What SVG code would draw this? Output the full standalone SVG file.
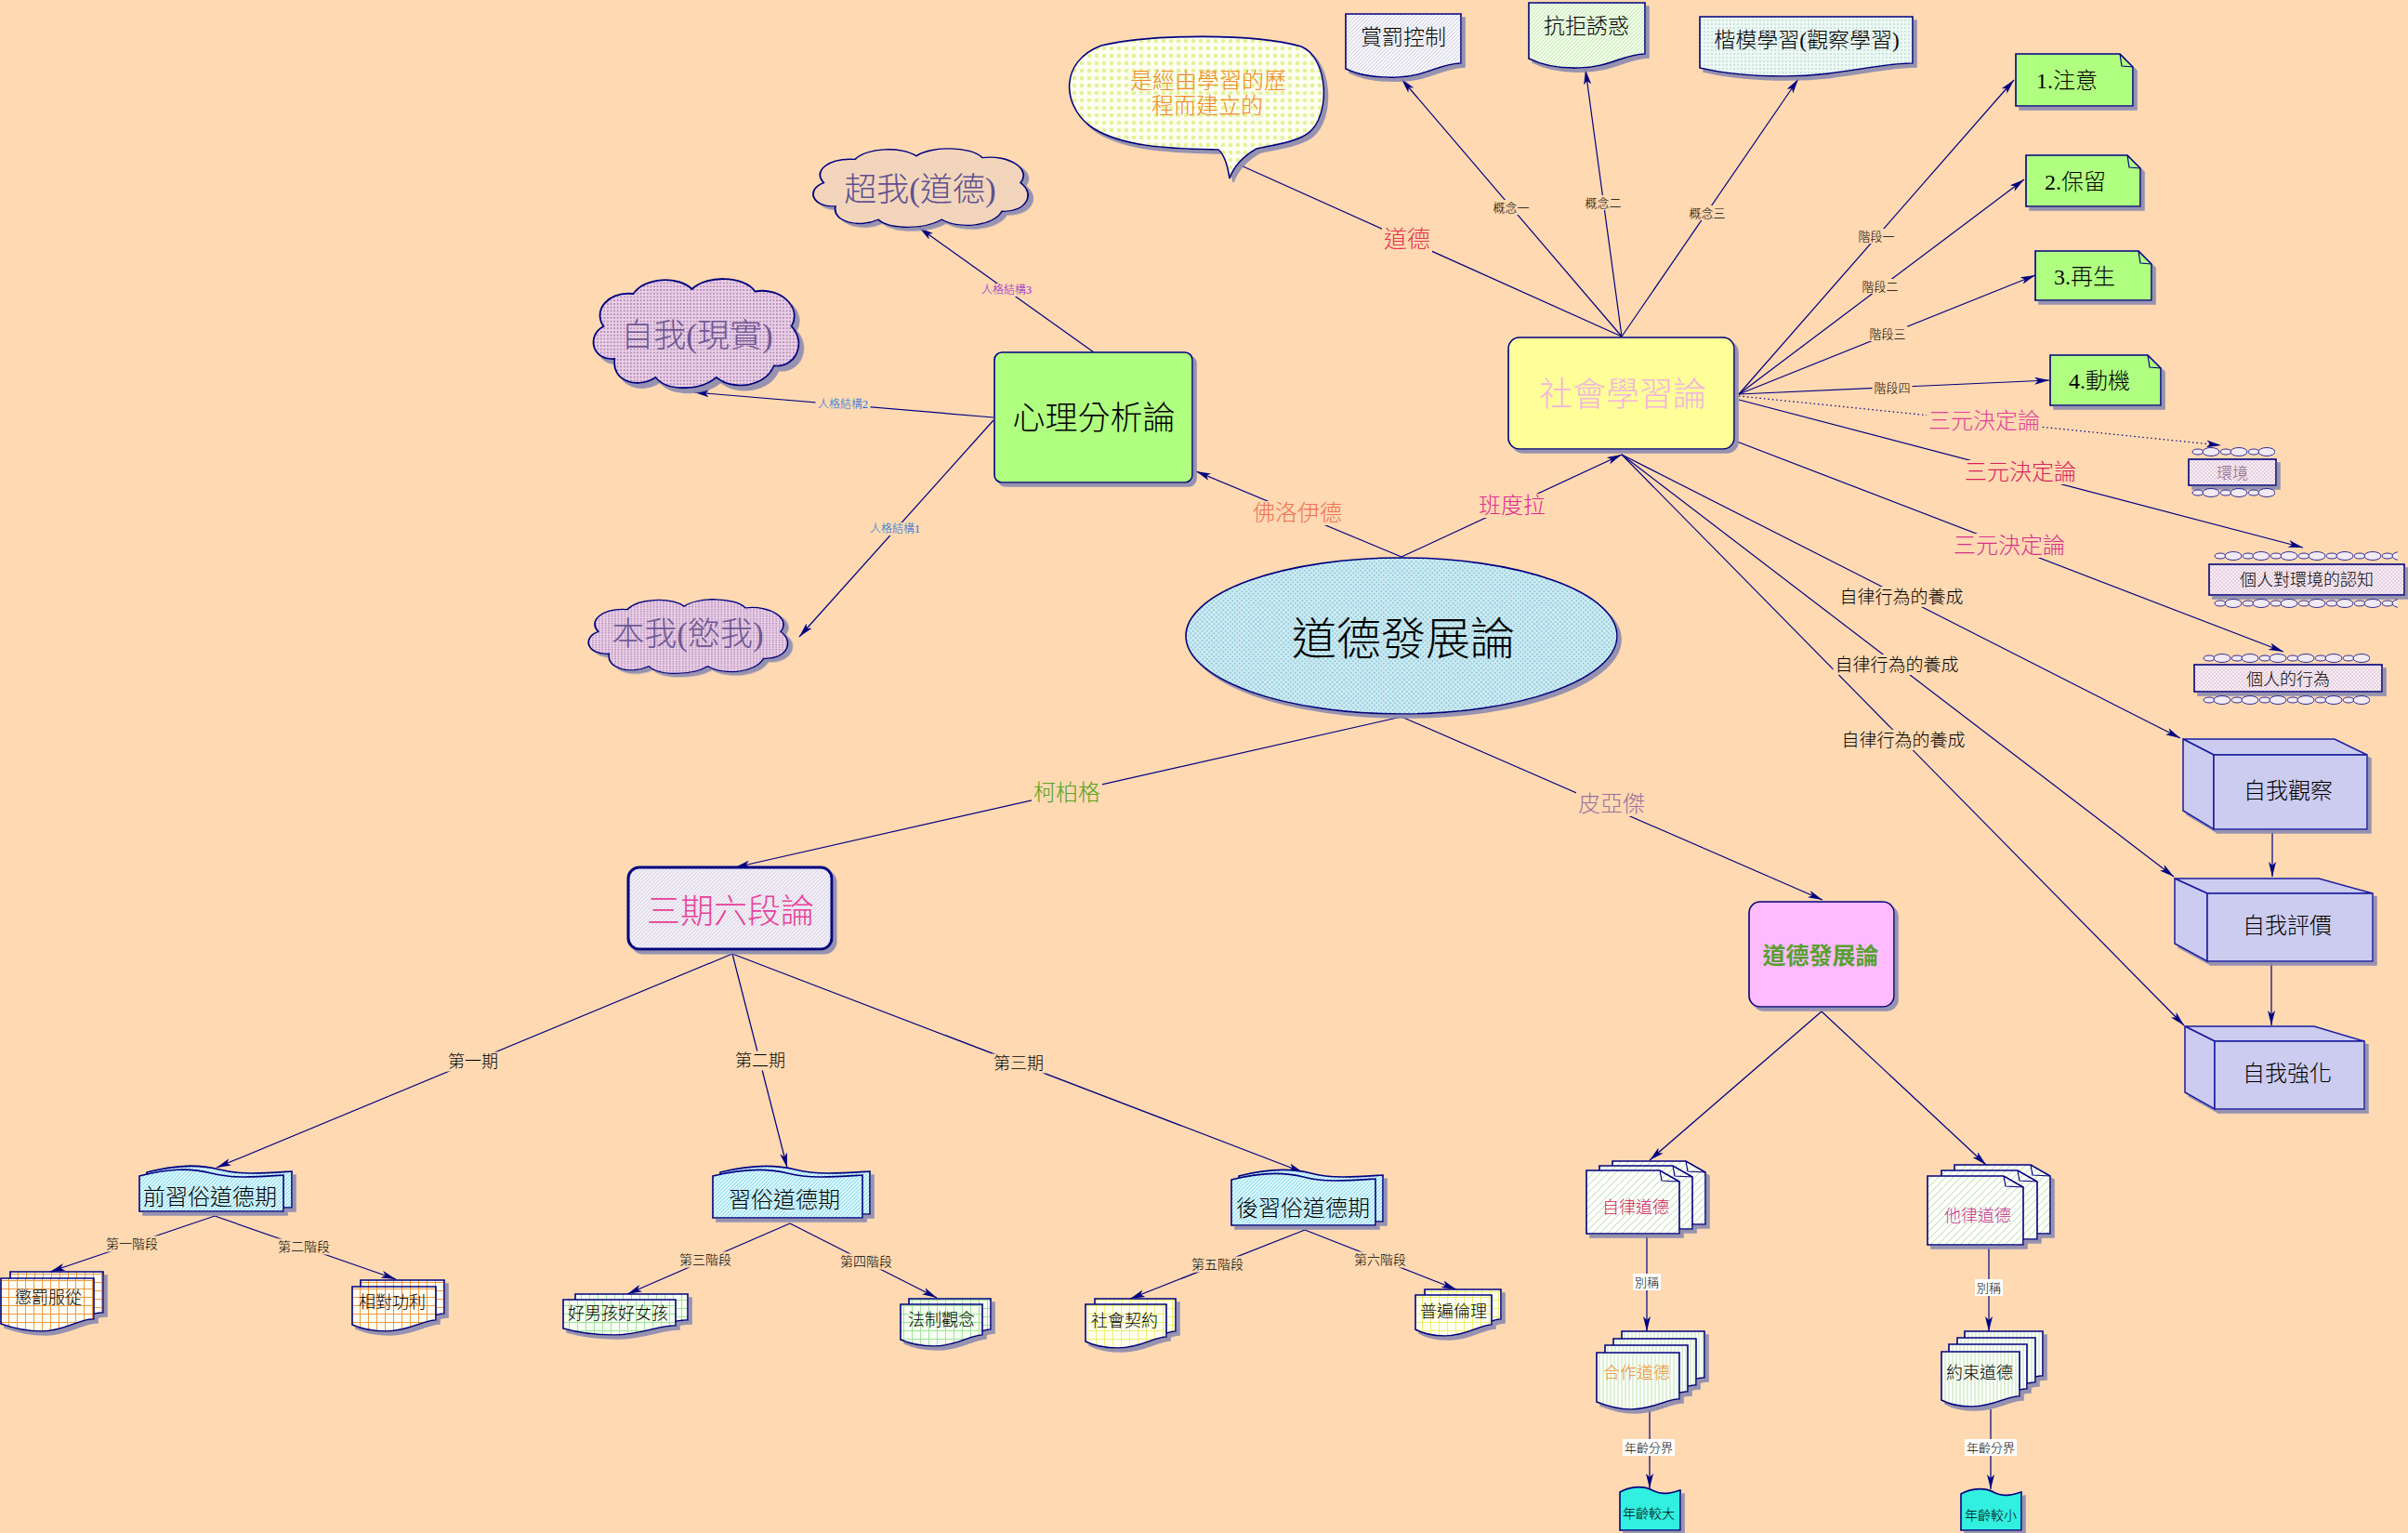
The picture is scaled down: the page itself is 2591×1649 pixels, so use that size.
<svg xmlns="http://www.w3.org/2000/svg" width="2591" height="1649" viewBox="0 0 2591 1649">
<style>
.f{font-family:'Liberation Serif','Noto Sans CJK TC',serif;dominant-baseline:central;text-anchor:middle;font-weight:300}
.ln{stroke:#000080;stroke-width:1.2;fill:none}
.dot{stroke:#000080;stroke-width:1.2;fill:none;stroke-dasharray:1.5 3}
.bd{stroke:#000080;stroke-width:1.6}
.bg{fill:#FED9B2}
.wb{fill:#FFFFFF}
.k{fill:#000000}
.fold{fill:none;stroke:#000080;stroke-width:1.2}
.b3{fill:#CCCCF0;stroke:#1A1AA0;stroke-width:1.5}
.cl{stroke:#000080;stroke-width:1.5;vector-effect:non-scaling-stroke}
</style>
<defs>
<marker id="ar" viewBox="0 0 16 8" refX="16" refY="4" markerWidth="16" markerHeight="8" orient="auto" markerUnits="userSpaceOnUse"><path d="M0,0 L16,4 L0,8 L4,4 Z" fill="#000080"/></marker>
<filter id="sh" x="-10%" y="-10%" width="130%" height="140%"><feDropShadow dx="4" dy="4" stdDeviation="0.6" flood-color="#8A8AB0" flood-opacity="0.9"/></filter>
<pattern id="pDotsYG" width="8" height="8" patternUnits="userSpaceOnUse"><rect width="8" height="8" fill="#FEFEF0"/><circle cx="4" cy="4" r="2.3" fill="#E2F296"/></pattern>
<pattern id="pGray" width="4" height="4" patternUnits="userSpaceOnUse"><rect width="4" height="4" fill="#F6F6FC"/><path d="M0,4 L4,0" stroke="#C4C4D8" stroke-width="0.8"/></pattern>
<pattern id="pGreenH" width="4" height="4" patternUnits="userSpaceOnUse"><rect width="4" height="4" fill="#F0FCE8"/><path d="M0,4 L4,0" stroke="#B4E4A0" stroke-width="0.8"/></pattern>
<pattern id="pBlueDot" width="4" height="4" patternUnits="userSpaceOnUse"><rect width="4" height="4" fill="#EEF8F4"/><circle cx="2" cy="2" r="0.9" fill="#B8DCD4"/></pattern>
<pattern id="pEll" width="5" height="5" patternUnits="userSpaceOnUse"><rect width="5" height="5" fill="#CDEBF2"/><circle cx="1.25" cy="1.25" r="1" fill="#8EC8DC"/><circle cx="3.75" cy="3.75" r="1" fill="#8EC8DC"/></pattern>
<pattern id="pOrange" width="3" height="3" patternUnits="userSpaceOnUse"><rect width="3" height="3" fill="#F8E4D0"/><path d="M0,3 L3,0" stroke="#E0A880" stroke-width="0.7"/></pattern>
<pattern id="pPurple" width="3" height="3" patternUnits="userSpaceOnUse"><rect width="3" height="3" fill="#E8D0E6"/><rect width="1.5" height="1.5" fill="#B888B8"/></pattern>
<pattern id="pLav" width="4" height="4" patternUnits="userSpaceOnUse"><rect width="4" height="4" fill="#F2EEF6"/><path d="M0,4 L4,0" stroke="#D0C8DC" stroke-width="0.8"/></pattern>
<pattern id="pCyan" width="4" height="4" patternUnits="userSpaceOnUse"><rect width="4" height="4" fill="#D8F6FC"/><path d="M0,4 L4,0" stroke="#7CD4EC" stroke-width="0.9"/></pattern>
<pattern id="gOr" width="9" height="9" patternUnits="userSpaceOnUse"><rect width="9" height="9" fill="#FFFEF2"/><path d="M0,0.5 H9 M0.5,0 V9" stroke="#EE9A40" stroke-width="1"/></pattern>
<pattern id="gGr" width="9" height="9" patternUnits="userSpaceOnUse"><rect width="9" height="9" fill="#F6FFF2"/><path d="M0,0.5 H9 M0.5,0 V9" stroke="#9EE49A" stroke-width="1"/></pattern>
<pattern id="gYe" width="9" height="9" patternUnits="userSpaceOnUse"><rect width="9" height="9" fill="#FFFFF0"/><path d="M0,0.5 H9 M0.5,0 V9" stroke="#EEEE70" stroke-width="1"/></pattern>
<pattern id="sDiag" width="8" height="8" patternUnits="userSpaceOnUse"><rect width="8" height="8" fill="#FFFFFF"/><path d="M0,8 L8,0 M-2,2 L2,-2 M6,10 L10,6" stroke="#B4DEA0" stroke-width="1"/></pattern>
<pattern id="sVert" width="4" height="4" patternUnits="userSpaceOnUse"><rect width="4" height="4" fill="#FFFFFF"/><path d="M1,0 V4" stroke="#BCE6AC" stroke-width="1"/></pattern>
<pattern id="pPink" width="4" height="4" patternUnits="userSpaceOnUse"><rect width="4" height="4" fill="#F8EEF4"/><circle cx="1" cy="1" r="0.8" fill="#D0A8C8"/><circle cx="3" cy="3" r="0.8" fill="#D0A8C8"/></pattern>
<pattern id="chain" width="30" height="12" patternUnits="userSpaceOnUse"><ellipse cx="7" cy="6" rx="6" ry="3" fill="#F2EAF4" stroke="#000080" stroke-width="0.8"/><ellipse cx="21" cy="6" rx="9" ry="4.5" fill="#F2EAF4" stroke="#000080" stroke-width="0.8"/></pattern>
<path id="cloud" d="M28,72 C8,74 2,52 18,44 C8,30 22,14 45,16 C55,2 85,0 98,12 C110,0 145,0 155,14 C178,10 198,28 188,44 C202,58 192,80 172,78 C165,96 135,100 120,88 C105,100 75,100 65,88 C50,98 25,92 28,72 Z"/>
</defs>
<rect width="2591" height="1649" fill="#FED9B2"/>

<g id="connectors">
<path class="ln" d="M1745,362 L1508,85" marker-end="url(#ar)"/>
<path class="ln" d="M1745,362 L1706,75" marker-end="url(#ar)"/>
<path class="ln" d="M1745,362 L1935,85" marker-end="url(#ar)"/>
<path class="ln" d="M1333,177 L1745,362"/>
<path class="ln" d="M1871,424 L2167,86" marker-end="url(#ar)"/>
<path class="ln" d="M1871,424 L2178,193" marker-end="url(#ar)"/>
<path class="ln" d="M1871,424 L2190,296" marker-end="url(#ar)"/>
<path class="ln" d="M1871,424 L2205,409" marker-end="url(#ar)"/>
<path class="dot" d="M1871,426 L2390,479" marker-end="url(#ar)"/>
<path class="ln" d="M1871,430 L2478,589" marker-end="url(#ar)"/>
<path class="ln" d="M1869,475 L2457,701" marker-end="url(#ar)"/>
<path class="ln" d="M1745,489 L2346,794" marker-end="url(#ar)"/>
<path class="ln" d="M1745,489 L2339,943" marker-end="url(#ar)"/>
<path class="ln" d="M1745,489 L2350,1103" marker-end="url(#ar)"/>
<path class="ln" d="M2445,894 L2445,943" marker-end="url(#ar)"/>
<path class="ln" d="M2444,1036 L2444,1103" marker-end="url(#ar)"/>
<path class="ln" d="M1177,379 L989,245" marker-end="url(#ar)"/>
<path class="ln" d="M1069,449 L747,422" marker-end="url(#ar)"/>
<path class="ln" d="M1069,452 L860,685" marker-end="url(#ar)"/>
<path class="ln" d="M1508,599 L1287,507" marker-end="url(#ar)"/>
<path class="ln" d="M1508,599 L1745,489" marker-end="url(#ar)"/>
<path class="ln" d="M1508,771 L791,933" marker-end="url(#ar)"/>
<path class="ln" d="M1508,771 L1961,968" marker-end="url(#ar)"/>
<path class="ln" d="M788,1026 L233,1256" marker-end="url(#ar)"/>
<path class="ln" d="M788,1026 L847,1256" marker-end="url(#ar)"/>
<path class="ln" d="M788,1026 L1402,1261" marker-end="url(#ar)"/>
<path class="ln" d="M231,1308 L54,1368" marker-end="url(#ar)"/>
<path class="ln" d="M231,1308 L426,1376" marker-end="url(#ar)"/>
<path class="ln" d="M850,1316 L675,1392" marker-end="url(#ar)"/>
<path class="ln" d="M850,1316 L1008,1396" marker-end="url(#ar)"/>
<path class="ln" d="M1404,1323 L1216,1397" marker-end="url(#ar)"/>
<path class="ln" d="M1404,1323 L1567,1387" marker-end="url(#ar)"/>
<path class="ln" d="M1960,1088 L1775,1248" marker-end="url(#ar)"/>
<path class="ln" d="M1960,1088 L2137,1253" marker-end="url(#ar)"/>
<path class="ln" d="M1772,1329 L1772,1432" marker-end="url(#ar)"/>
<path class="ln" d="M2140,1341 L2140,1432" marker-end="url(#ar)"/>
<path class="ln" d="M1775,1517 L1775,1601" marker-end="url(#ar)"/>
<path class="ln" d="M2142,1516 L2142,1602" marker-end="url(#ar)"/>

<g id="labels">
<rect class="bg" x="1604.5" y="215" width="43" height="16"/><text class="f k" x="1626" y="223" font-size="13">概念一</text>
<rect class="bg" x="1703.5" y="210" width="43" height="16"/><text class="f k" x="1725" y="218" font-size="13">概念二</text>
<rect class="bg" x="1815.5" y="221" width="43" height="16"/><text class="f k" x="1837" y="229" font-size="13">概念三</text>
<rect class="bg" x="1487" y="243" width="54" height="28"/><text class="f" x="1514" y="257" font-size="25" fill="#E8304A">道德</text>
<rect class="bg" x="1997.5" y="246" width="43" height="16"/><text class="f k" x="2019" y="254" font-size="13">階段一</text>
<rect class="bg" x="2001.5" y="300" width="43" height="16"/><text class="f k" x="2023" y="308" font-size="13">階段二</text>
<rect class="bg" x="2009.5" y="351" width="43" height="16"/><text class="f k" x="2031" y="359" font-size="13">階段三</text>
<rect class="bg" x="2014.5" y="409" width="43" height="16"/><text class="f k" x="2036" y="417" font-size="13">階段四</text>
<rect class="bg" x="2073" y="440" width="124" height="26"/><text class="f" x="2135" y="453" font-size="24" fill="#E0409A">三元決定論</text>
<rect class="bg" x="2112" y="495" width="124" height="26"/><text class="f" x="2174" y="508" font-size="24" fill="#D8205A">三元決定論</text>
<rect class="bg" x="2100" y="574" width="124" height="26"/><text class="f" x="2162" y="587" font-size="24" fill="#D8308A">三元決定論</text>
<rect class="bg" x="1977.5" y="631" width="137" height="22"/><text class="f k" x="2046" y="642" font-size="19">自律行為的養成</text>
<rect class="bg" x="1972.5" y="704" width="137" height="22"/><text class="f k" x="2041" y="715" font-size="19">自律行為的養成</text>
<rect class="bg" x="1979.5" y="785" width="137" height="22"/><text class="f k" x="2048" y="796" font-size="19">自律行為的養成</text>
<rect class="bg" x="1053.5" y="305" width="59" height="14"/><text class="f" x="1083" y="312" font-size="12" fill="#9020D0">人格結構3</text>
<rect class="bg" x="877.5" y="428" width="59" height="14"/><text class="f" x="907" y="435" font-size="12" fill="#2070E0">人格結構2</text>
<rect class="bg" x="933.5" y="562" width="59" height="14"/><text class="f" x="963" y="569" font-size="12" fill="#2070E0">人格結構1</text>
<rect class="bg" x="1346" y="539" width="100" height="26"/><text class="f" x="1396" y="552" font-size="24" fill="#F07050">佛洛伊德</text>
<rect class="bg" x="1589" y="531" width="76" height="26"/><text class="f" x="1627" y="544" font-size="24" fill="#E02890">班度拉</text>
<rect class="bg" x="1110" y="840" width="76" height="26"/><text class="f" x="1148" y="853" font-size="24" fill="#58A020">柯柏格</text>
<rect class="bg" x="1696" y="852" width="76" height="26"/><text class="f" x="1734" y="865" font-size="24" fill="#9A70A0">皮亞傑</text>
<rect class="bg" x="480" y="1131.5" width="58" height="21"/><text class="f k" x="509" y="1142" font-size="18">第一期</text>
<rect class="bg" x="789" y="1130.5" width="58" height="21"/><text class="f k" x="818" y="1141" font-size="18">第二期</text>
<rect class="bg" x="1067" y="1133.5" width="58" height="21"/><text class="f k" x="1096" y="1144" font-size="18">第三期</text>
<rect class="bg" x="112" y="1329.5" width="60" height="17"/><text class="f k" x="142" y="1338" font-size="14">第一階段</text>
<rect class="bg" x="297" y="1332.5" width="60" height="17"/><text class="f k" x="327" y="1341" font-size="14">第二階段</text>
<rect class="bg" x="729" y="1346.5" width="60" height="17"/><text class="f k" x="759" y="1355" font-size="14">第三階段</text>
<rect class="bg" x="902" y="1348.5" width="60" height="17"/><text class="f k" x="932" y="1357" font-size="14">第四階段</text>
<rect class="bg" x="1280" y="1351.5" width="60" height="17"/><text class="f k" x="1310" y="1360" font-size="14">第五階段</text>
<rect class="bg" x="1455" y="1346.5" width="60" height="17"/><text class="f k" x="1485" y="1355" font-size="14">第六階段</text>
<rect class="wb" x="1757" y="1370" width="30" height="18"/><text class="f k" x="1772" y="1379" font-size="13">別稱</text>
<rect class="wb" x="2125" y="1376" width="30" height="18"/><text class="f k" x="2140" y="1385" font-size="13">別稱</text>
<rect class="wb" x="1746" y="1548" width="56" height="18"/><text class="f k" x="1774" y="1557" font-size="13">年齡分界</text>
<rect class="wb" x="2114" y="1548" width="56" height="18"/><text class="f k" x="2142" y="1557" font-size="13">年齡分界</text>
</g>
</g>

<g id="n-bubble">
<path class="bd" fill="url(#pDotsYG)" filter="url(#sh)" d="M1185,49 C1240,36 1350,36 1400,50 C1430,62 1432,125 1408,143 C1395,153 1370,156 1352,160 C1338,168 1328,178 1323,192 C1321,178 1318,167 1311,161 C1270,160 1205,160 1172,135 C1143,112 1140,66 1185,49 Z"/>
<text class="f" x="1300" y="87" font-size="24" fill="#F08A28">是經由學習的歷</text>
<text class="f" x="1299" y="114" font-size="24" fill="#F08A28">程而建立的</text>
</g>

<g id="n-reward">
<path class="bd" fill="url(#pGray)" filter="url(#sh)" d="M1448,15 H1572 V68 C1550,68 1535,82 1505,83 C1480,84 1460,80 1448,74 Z"/>
<text class="f k" x="1510" y="40" font-size="23">賞罰控制</text>
</g>
<g id="n-resist">
<path class="bd" fill="url(#pGreenH)" filter="url(#sh)" d="M1645,3 H1770 V58 C1748,58 1730,73 1700,73 C1675,74 1657,69 1645,63 Z"/>
<text class="f k" x="1707" y="28" font-size="23">抗拒誘惑</text>
</g>
<g id="n-model">
<path class="bd" fill="url(#pBlueDot)" filter="url(#sh)" d="M1829,18 H2058 V68 C2020,68 1980,82 1920,82 C1880,82 1850,78 1829,73 Z"/>
<text class="f k" x="1944" y="43" font-size="23">楷模學習(觀察學習)</text>
</g>

<g id="n-attention">
<path class="bd" fill="#B0FF80" filter="url(#sh)" d="M2169,58 H2281 L2295,72 V114 H2169 Z"/>
<path class="fold" d="M2281,58 L2283,71 L2295,72"/>
<text class="f k" x="2191" y="87" font-size="24" style="text-anchor:start">1.注意</text>
</g>
<g id="n-retention">
<path class="bd" fill="#B0FF80" filter="url(#sh)" d="M2180,167 H2289 L2303,181 V222 H2180 Z"/>
<path class="fold" d="M2289,167 L2291,180 L2303,181"/>
<text class="f k" x="2200" y="196" font-size="24" style="text-anchor:start">2.保留</text>
</g>
<g id="n-reproduction">
<path class="bd" fill="#B0FF80" filter="url(#sh)" d="M2190,270 H2301 L2315,284 V323 H2190 Z"/>
<path class="fold" d="M2301,270 L2303,283 L2315,284"/>
<text class="f k" x="2210" y="298" font-size="24" style="text-anchor:start">3.再生</text>
</g>
<g id="n-motivation">
<path class="bd" fill="#B0FF80" filter="url(#sh)" d="M2206,382 H2311 L2325,396 V436 H2206 Z"/>
<path class="fold" d="M2311,382 L2313,395 L2325,396"/>
<text class="f k" x="2226" y="410" font-size="24" style="text-anchor:start">4.動機</text>
</g>

<g id="n-social">
<rect class="bd" x="1623" y="363" width="243" height="120" rx="12" fill="#FFFF99" filter="url(#sh)"/>
<text class="f" x="1746" y="425" font-size="36" fill="#F2B4DE">社會學習論</text>
</g>

<g id="n-psycho">
<rect class="bd" x="1070" y="379" width="213" height="140" rx="8" fill="#B0FF80" filter="url(#sh)"/>
<text class="f k" x="1177" y="450" font-size="35">心理分析論</text>
</g>

<g id="n-superego">
<use href="#cloud" class="cl" transform="translate(864,157) scale(1.245,0.9)" fill="url(#pOrange)" filter="url(#sh)"/>
<text class="f" x="990" y="204" font-size="35" fill="#5E5090">超我(道德)</text>
</g>
<g id="n-ego">
<use href="#cloud" class="cl" transform="translate(628,296) scale(1.19,1.25)" fill="url(#pPurple)" filter="url(#sh)"/>
<text class="f" x="750" y="361" font-size="35" fill="#6E5894">自我(現實)</text>
</g>
<g id="n-id">
<use href="#cloud" class="cl" transform="translate(623,642) scale(1.155,0.85)" fill="url(#pPurple)" filter="url(#sh)"/>
<text class="f" x="740" y="682" font-size="35" fill="#6E5894">本我(慾我)</text>
</g>

<g id="n-main">
<ellipse class="bd" cx="1508" cy="684" rx="232" ry="84" fill="url(#pEll)" filter="url(#sh)"/>
<text class="f k" x="1510" y="687" font-size="48">道德發展論</text>
</g>

<g id="n-kohlberg">
<rect x="676" y="933" width="219" height="88" rx="12" fill="url(#pLav)" stroke="#000080" stroke-width="3" filter="url(#sh)"/>
<text class="f" x="786" y="981" font-size="36" fill="#E8409A">三期六段論</text>
</g>

<g id="n-pre">
<g filter="url(#sh)">
<path class="bd" fill="url(#pCyan)" d="M158,1261 C189.2,1253 212.6,1252 236,1258 C259.4,1264 282.8,1262 314,1260 L314,1299 L158,1299 Z"/>
<path class="bd" fill="url(#pCyan)" d="M150,1265 C181,1257 204,1256 227.5,1262 C251,1268 274,1266 305,1264 L305,1303 L150,1303 Z"/>
</g>
<text class="f k" x="226" y="1288" font-size="24">前習俗道德期</text>
</g>
<g id="n-conv">
<g filter="url(#sh)">
<path class="bd" fill="url(#pCyan)" d="M775,1261 C807.2,1253 831.4,1252 855.5,1258 C879.6,1264 903.8,1262 936,1260 L936,1306 L775,1306 Z"/>
<path class="bd" fill="url(#pCyan)" d="M767,1265 C799.2,1257 823.4,1256 847.5,1262 C871.6,1268 895.8,1266 928,1264 L928,1310 L767,1310 Z"/>
</g>
<text class="f k" x="844" y="1291" font-size="24">習俗道德期</text>
</g>
<g id="n-post">
<g filter="url(#sh)">
<path class="bd" fill="url(#pCyan)" d="M1333,1265 C1364,1257 1387.3,1256 1410.5,1262 C1433.8,1268 1457,1266 1488,1264 L1488,1314 L1333,1314 Z"/>
<path class="bd" fill="url(#pCyan)" d="M1325,1269 C1356,1261 1379.3,1260 1402.5,1266 C1425.8,1272 1449,1270 1480,1268 L1480,1318 L1325,1318 Z"/>
</g>
<text class="f k" x="1402" y="1300" font-size="24">後習俗道德期</text>
</g>

<g id="n-s1">
<g filter="url(#sh)">
<path class="bd" fill="url(#gOr)" transform="translate(10,-7)" d="M1,1375 H101 V1419 C86,1418 70,1432 45,1432 C28,1432 12,1428 1,1424 Z"/>
<path class="bd" fill="url(#gOr)" d="M1,1375 H101 V1419 C86,1418 70,1432 45,1432 C28,1432 12,1428 1,1424 Z"/>
</g>
<text class="f k" x="52" y="1396" font-size="18">懲罰服從</text>
</g>
<g id="n-s2">
<g filter="url(#sh)">
<path class="bd" fill="url(#gOr)" transform="translate(9,-7)" d="M379,1384 H469 V1420 C455,1420 440,1432 415,1432 C400,1432 388,1429 379,1425 Z"/>
<path class="bd" fill="url(#gOr)" d="M379,1384 H469 V1420 C455,1420 440,1432 415,1432 C400,1432 388,1429 379,1425 Z"/>
</g>
<text class="f k" x="422" y="1401" font-size="18">相對功利</text>
</g>
<g id="n-s3">
<g filter="url(#sh)">
<path class="bd" fill="url(#gGr)" transform="translate(13,-6)" d="M606,1398 H727 V1426 C710,1425 690,1436 660,1436 C640,1436 620,1433 606,1429 Z"/>
<path class="bd" fill="url(#gGr)" d="M606,1398 H727 V1426 C710,1425 690,1436 660,1436 C640,1436 620,1433 606,1429 Z"/>
</g>
<text class="f k" x="665" y="1413" font-size="18">好男孩好女孩</text>
</g>
<g id="n-s4">
<g filter="url(#sh)">
<path class="bd" fill="url(#gGr)" transform="translate(9,-6)" d="M969,1403 H1057 V1436 C1044,1436 1030,1448 1005,1448 C990,1448 978,1445 969,1441 Z"/>
<path class="bd" fill="url(#gGr)" d="M969,1403 H1057 V1436 C1044,1436 1030,1448 1005,1448 C990,1448 978,1445 969,1441 Z"/>
</g>
<text class="f k" x="1013" y="1420" font-size="18">法制觀念</text>
</g>
<g id="n-s5">
<g filter="url(#sh)">
<path class="bd" fill="url(#gYe)" transform="translate(10,-6)" d="M1168,1403 H1255 V1438 C1242,1438 1228,1450 1203,1450 C1188,1450 1176,1447 1168,1443 Z"/>
<path class="bd" fill="url(#gYe)" d="M1168,1403 H1255 V1438 C1242,1438 1228,1450 1203,1450 C1188,1450 1176,1447 1168,1443 Z"/>
</g>
<text class="f k" x="1210" y="1421" font-size="18">社會契約</text>
</g>
<g id="n-s6">
<g filter="url(#sh)">
<path class="bd" fill="url(#gYe)" transform="translate(10,-6)" d="M1523,1393 H1605 V1425 C1592,1425 1578,1437 1555,1437 C1540,1437 1530,1434 1523,1430 Z"/>
<path class="bd" fill="url(#gYe)" d="M1523,1393 H1605 V1425 C1592,1425 1578,1437 1555,1437 C1540,1437 1530,1434 1523,1430 Z"/>
</g>
<text class="f k" x="1564" y="1411" font-size="18">普遍倫理</text>
</g>

<g id="n-piaget">
<rect class="bd" x="1882" y="970" width="156" height="113" rx="12" fill="#FFBBFF" filter="url(#sh)"/>
<text class="f" x="1959" y="1028" font-size="25" style="font-weight:bold" fill="#58A030">道德發展論</text>
</g>

<g id="n-autonomous">
<g filter="url(#sh)">
<g transform="translate(28,-10)"><path class="bd" fill="url(#sDiag)" d="M1707,1259 H1786 L1807,1271 V1327 H1707 Z"/><path class="fold" d="M1786,1259 L1788,1270 L1807,1271"/></g>
<g transform="translate(14,-5)"><path class="bd" fill="url(#sDiag)" d="M1707,1259 H1786 L1807,1271 V1327 H1707 Z"/><path class="fold" d="M1786,1259 L1788,1270 L1807,1271"/></g>
<path class="bd" fill="url(#sDiag)" d="M1707,1259 H1786 L1807,1271 V1327 H1707 Z"/><path class="fold" d="M1786,1259 L1788,1270 L1807,1271"/>
</g>
<text class="f" x="1760" y="1299" font-size="18" fill="#D0205A">自律道德</text>
</g>
<g id="n-heteronomous">
<g filter="url(#sh)">
<g transform="translate(29,-12)"><path class="bd" fill="url(#sDiag)" d="M2074,1265 H2156 L2177,1277 V1339 H2074 Z"/><path class="fold" d="M2156,1265 L2158,1276 L2177,1277"/></g>
<g transform="translate(15,-6)"><path class="bd" fill="url(#sDiag)" d="M2074,1265 H2156 L2177,1277 V1339 H2074 Z"/><path class="fold" d="M2156,1265 L2158,1276 L2177,1277"/></g>
<path class="bd" fill="url(#sDiag)" d="M2074,1265 H2156 L2177,1277 V1339 H2074 Z"/><path class="fold" d="M2156,1265 L2158,1276 L2177,1277"/>
</g>
<text class="f" x="2128" y="1308" font-size="18" fill="#C83090">他律道德</text>
</g>
<g id="n-coop">
<g filter="url(#sh)">
<path class="bd" fill="url(#sVert)" transform="translate(27,-23)" d="M1718,1455 H1807 V1505 C1795,1504 1780,1516 1755,1516 C1740,1516 1728,1512 1718,1508 Z"/>
<path class="bd" fill="url(#sVert)" transform="translate(18,-15)" d="M1718,1455 H1807 V1505 C1795,1504 1780,1516 1755,1516 C1740,1516 1728,1512 1718,1508 Z"/>
<path class="bd" fill="url(#sVert)" transform="translate(9,-8)" d="M1718,1455 H1807 V1505 C1795,1504 1780,1516 1755,1516 C1740,1516 1728,1512 1718,1508 Z"/>
<path class="bd" fill="url(#sVert)" d="M1718,1455 H1807 V1505 C1795,1504 1780,1516 1755,1516 C1740,1516 1728,1512 1718,1508 Z"/>
</g>
<text class="f" x="1761" y="1477" font-size="18" fill="#F09030">合作道德</text>
</g>
<g id="n-constraint">
<g filter="url(#sh)">
<path class="bd" fill="url(#sVert)" transform="translate(25,-22)" d="M2089,1454 H2173 V1502 C2161,1501 2146,1513 2122,1513 C2107,1513 2096,1510 2089,1506 Z"/>
<path class="bd" fill="url(#sVert)" transform="translate(17,-15)" d="M2089,1454 H2173 V1502 C2161,1501 2146,1513 2122,1513 C2107,1513 2096,1510 2089,1506 Z"/>
<path class="bd" fill="url(#sVert)" transform="translate(8,-8)" d="M2089,1454 H2173 V1502 C2161,1501 2146,1513 2122,1513 C2107,1513 2096,1510 2089,1506 Z"/>
<path class="bd" fill="url(#sVert)" d="M2089,1454 H2173 V1502 C2161,1501 2146,1513 2122,1513 C2107,1513 2096,1510 2089,1506 Z"/>
</g>
<text class="f k" x="2130" y="1477" font-size="18">約束道德</text>
</g>
<g id="n-older">
<path class="bd" fill="#33F0E0" filter="url(#sh)" d="M1743,1605 C1755,1598 1770,1598 1780,1604 C1790,1609 1800,1605 1808,1603 L1808,1646 L1743,1646 Z"/>
<text class="f k" x="1774" y="1628" font-size="14">年齡較大</text>
</g>
<g id="n-younger">
<path class="bd" fill="#33F0E0" filter="url(#sh)" d="M2110,1607 C2122,1600 2137,1600 2147,1606 C2157,1611 2167,1607 2175,1605 L2175,1646 L2110,1646 Z"/>
<text class="f k" x="2142" y="1630" font-size="14">年齡較小</text>
</g>

<g id="n-selfobs">
<g filter="url(#sh)">
<path class="b3" d="M2349,795 L2512,795 L2547,812 L2382,812 Z"/>
<path class="b3" d="M2349,795 L2382,812 L2382,892 L2349,872 Z"/>
<rect class="b3" x="2382" y="812" width="165" height="80"/>
</g>
<text class="f k" x="2462" y="851" font-size="24">自我觀察</text>
</g>
<g id="n-selfeval">
<g filter="url(#sh)">
<path class="b3" d="M2340,945 L2495,945 L2553,961 L2375,961 Z"/>
<path class="b3" d="M2340,945 L2375,961 L2375,1034 L2340,1015 Z"/>
<rect class="b3" x="2375" y="961" width="178" height="73"/>
</g>
<text class="f k" x="2461" y="996" font-size="24">自我評價</text>
</g>
<g id="n-selfrein">
<g filter="url(#sh)">
<path class="b3" d="M2351,1104 L2490,1104 L2544,1120 L2383,1120 Z"/>
<path class="b3" d="M2351,1104 L2383,1120 L2383,1193 L2351,1175 Z"/>
<rect class="b3" x="2383" y="1120" width="161" height="73"/>
</g>
<text class="f k" x="2461" y="1155" font-size="24">自我強化</text>
</g>

<g id="n-env">
<g transform="translate(2358,480)"><rect width="90" height="12" fill="url(#chain)"/></g>
<rect class="bd" x="2355" y="494" width="94" height="28" fill="url(#pPink)" filter="url(#sh)"/>
<g transform="translate(2358,524)"><rect width="90" height="12" fill="url(#chain)"/></g>
<text class="f" x="2402" y="509" font-size="17" fill="#8A6A8A">環境</text>
</g>
<g id="n-cognition">
<g transform="translate(2382,592)"><rect width="198" height="12" fill="url(#chain)"/></g>
<rect class="bd" x="2377" y="607" width="210" height="33" fill="url(#pPink)" filter="url(#sh)"/>
<g transform="translate(2382,643)"><rect width="198" height="12" fill="url(#chain)"/></g>
<text class="f k" x="2482" y="624" font-size="18">個人對環境的認知</text>
</g>
<g id="n-behavior">
<g transform="translate(2370,702)"><rect width="180" height="12" fill="url(#chain)"/></g>
<rect class="bd" x="2361" y="715" width="202" height="29" fill="url(#pPink)" filter="url(#sh)"/>
<g transform="translate(2370,747)"><rect width="180" height="12" fill="url(#chain)"/></g>
<text class="f k" x="2462" y="731" font-size="18">個人的行為</text>
</g>
</svg>
